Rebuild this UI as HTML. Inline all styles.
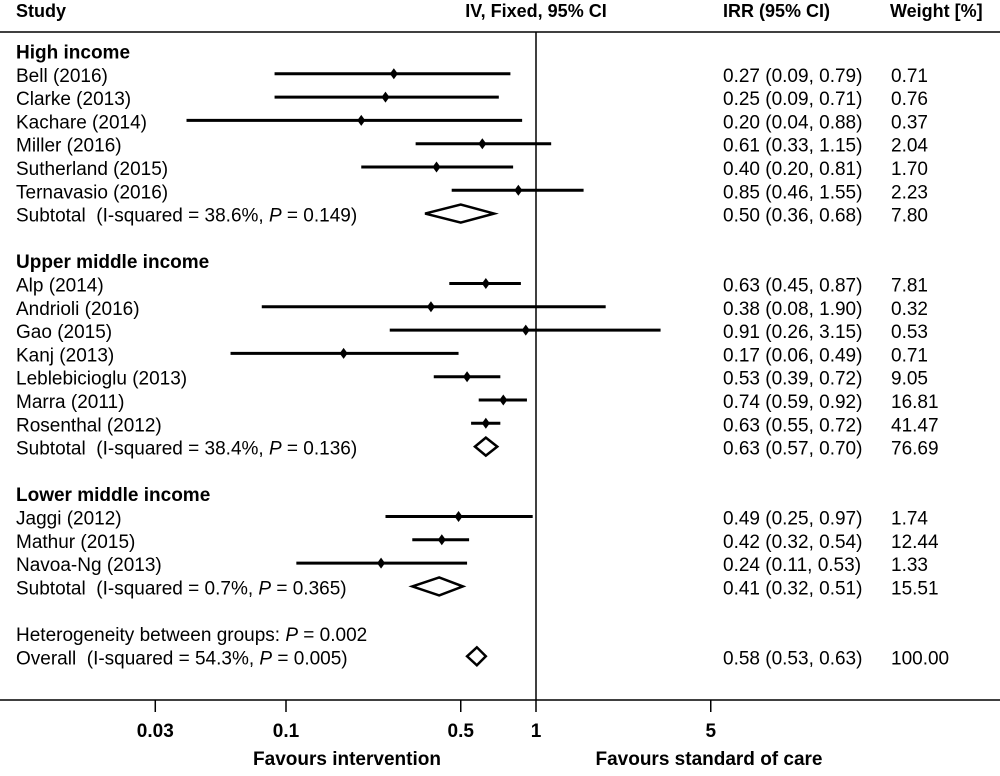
<!DOCTYPE html>
<html><head><meta charset="utf-8"><style>
body{margin:0;background:#fff;}
svg text{font-family:"Liberation Sans",Arial,sans-serif;font-size:19px;fill:#000;white-space:pre;}
.b{font-weight:bold;}
.h{font-size:18px;font-weight:bold;}
</style></head><body>
<svg id="chart" width="1000" height="771" viewBox="0 0 1000 771" xmlns="http://www.w3.org/2000/svg" xml:space="preserve">
<g id="hdr">
<text class="h" x="16" y="17">Study</text>
<text class="h" x="536" y="17" text-anchor="middle">IV, Fixed, 95% CI</text>
<text class="h" x="723" y="17">IRR (95% CI)</text>
<text class="h" x="890" y="17">Weight [%]</text>
<line x1="0" y1="32" x2="1000" y2="32" stroke="#000" stroke-width="1.5"/>
<line x1="536" y1="32" x2="536" y2="700" stroke="#000" stroke-width="1.5"/>
<line x1="0" y1="700" x2="1000" y2="700" stroke="#000" stroke-width="1.5"/>
<text class="b" x="347" y="765" text-anchor="middle">Favours intervention</text>
<text class="b" x="709" y="765" text-anchor="middle">Favours standard of care</text>
</g>
<g id="rows"></g>
<g id="axis"></g>
</svg>
<script>
const labels=["High income","Bell (2016)","Clarke (2013)","Kachare (2014)","Miller (2016)","Sutherland (2015)","Ternavasio (2016)","Subtotal  (I-squared = 38.6%, P = 0.149)","","Upper middle income","Alp (2014)","Andrioli (2016)","Gao (2015)","Kanj (2013)","Leblebicioglu (2013)","Marra (2011)","Rosenthal (2012)","Subtotal  (I-squared = 38.4%, P = 0.136)","","Lower middle income","Jaggi (2012)","Mathur (2015)","Navoa-Ng (2013)","Subtotal  (I-squared = 0.7%, P = 0.365)","","Heterogeneity between groups: P = 0.002","Overall  (I-squared = 54.3%, P = 0.005)"];
const kinds=["g","s","s","s","s","s","s","d","","g","s","s","s","s","s","s","s","d","","g","s","s","s","d","","t","d"];
const est=[null,0.27,0.25,0.20,0.61,0.40,0.85,0.50,null,null,0.63,0.38,0.91,0.17,0.53,0.74,0.63,0.63,null,null,0.49,0.42,0.24,0.41,null,null,0.58];
const lo=[null,0.09,0.09,0.04,0.33,0.20,0.46,0.36,null,null,0.45,0.08,0.26,0.06,0.39,0.59,0.55,0.57,null,null,0.25,0.32,0.11,0.32,null,null,0.53];
const hi=[null,0.79,0.71,0.88,1.15,0.81,1.55,0.68,null,null,0.87,1.90,3.15,0.49,0.72,0.92,0.72,0.70,null,null,0.97,0.54,0.53,0.51,null,null,0.63];
const weights=[null,"0.71","0.76","0.37","2.04","1.70","2.23","7.80",null,null,"7.81","0.32","0.53","0.71","9.05","16.81","41.47","76.69",null,null,"1.74","12.44","1.33","15.51",null,null,"100.00"];
const ticks=[0.03,0.1,0.5,1,5];
const tickLabels=["0.03","0.1","0.5","1","5"];
const NS="http://www.w3.org/2000/svg";
const X=v=>536+250*Math.log10(v);
const Y=i=>50.5+23.3*i;
const f=v=>v.toFixed(2);
function mk(tag,attrs,parent){const e=document.createElementNS(NS,tag);for(const k in attrs)e.setAttribute(k,attrs[k]);parent.appendChild(e);return e;}
const rows=document.getElementById('rows');
labels.forEach((lab,i)=>{
 if(!lab)return;
 const y=Y(i);
 const t=mk('text',{x:16,y:y+8},rows);
 
 
 if(kinds[i]==="g")t.setAttribute('class','b');
 const m=lab.match(/^(.*)P( = .*)$/);
 if(m){t.appendChild(document.createTextNode(m[1]));const ts=mk('tspan',{'font-style':'italic'},t);ts.textContent='P';t.appendChild(document.createTextNode(m[2]));}
 else t.textContent=lab;
 if(est[i]!=null){
  const tx=mk('text',{x:723,y:y+8},rows);
  
  
  tx.textContent=f(est[i])+" ("+f(lo[i])+", "+f(hi[i])+")";
  const tw=mk('text',{x:891,y:y+8},rows);
  
  
  tw.textContent=weights[i];
  if(kinds[i]==="s"){
   const l=mk('line',{x1:X(lo[i]),x2:X(hi[i]),y1:y,y2:y,stroke:'#000','stroke-width':3},rows);
   
   
   const cx=X(est[i]);
   const p=mk('polygon',{points:`${cx-4},${y} ${cx},${y-5.5} ${cx+4},${y} ${cx},${y+5.5}`,fill:'#000'},rows);
   
   
  } else {
   const h=9;
   const d=mk('polygon',{points:`${X(lo[i])},${y} ${X(est[i])},${y-h} ${X(hi[i])},${y} ${X(est[i])},${y+h}`,fill:'#fff',stroke:'#000','stroke-width':2.5},rows);
   
   
  }
 }
});
const ax=document.getElementById('axis');
ticks.forEach((v,k)=>{
 const l=mk('line',{x1:X(v),x2:X(v),y1:700,y2:712,stroke:'#000','stroke-width':1.5},ax);
 
 
 const t=mk('text',{x:X(v),y:737,'text-anchor':'middle','class':'b'},ax);
 
 
 t.textContent=tickLabels[k];
});
</script>
</body></html>
